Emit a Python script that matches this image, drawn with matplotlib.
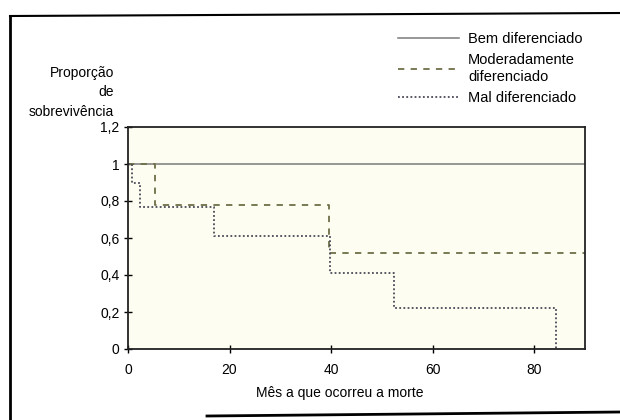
import matplotlib
matplotlib.use("Agg")
import matplotlib.pyplot as plt
from matplotlib.lines import Line2D

plt.rcParams['font.family'] = ['Liberation Sans', 'DejaVu Sans']

# Kaplan-Meier curves
bem_t = [0, 90]
bem_s = [1.0, 1.0]

mod_t = [0, 5.3, 39.5, 90]
mod_s = [1.0, 0.78, 0.52, 0.52]

mal_t = [0, 0.8, 2.3, 17, 39.8, 52.3, 84.2]
mal_s = [1.0, 0.9, 0.77, 0.61, 0.41, 0.22, 0.0]

labels = ["Bem diferenciado", "Moderadamente\ndiferenciado", "Mal diferenciado"]
y_ticks = [0, 0.2, 0.4, 0.6, 0.8, 1.0, 1.2]
y_ticklabels = ["0", "0,2", "0,4", "0,6", "0,8", "1", "1,2"]
x_ticks = [0, 20, 40, 60, 80]

fig = plt.figure(figsize=(6.2, 4.2), dpi=100)
fig.patch.set_facecolor("white")
ax = fig.add_axes([128/620, 1-349/420, (585-128)/620, (349-127)/420])
ax.set_facecolor("#fdfdf1")

l1, = ax.step(bem_t, bem_s, where="post", color="#7a7a7a", lw=1.1)
l2, = ax.step(mod_t, mod_s, where="post", color="#6f7048", lw=1.3,
              linestyle=(0, (3.5, 3.5)))
l3, = ax.step(mal_t, mal_s, where="post", color="#4a4a58", lw=1.3,
              linestyle=(0, (1, 1.3)))

ax.set_xlim(0, 90)
ax.set_ylim(0, 1.2)
ax.set_yticks(y_ticks)
ax.set_yticklabels(y_ticklabels)
ax.set_xticks(x_ticks)
ax.tick_params(direction="inout", length=6, width=1, labelsize=10, pad=3)
ax.tick_params(axis="x", pad=7)
for sp in ax.spines.values():
    sp.set_linewidth(1.3)
    sp.set_color("#222222")

fig.text(114/620, 1-92/420, "Proporção\nde\nsobrevivência", ha="right",
         va="center", fontsize=10, linespacing=1.5)
fig.text(340/620, 1-393/420, "Mês a que ocorreu a morte", ha="center",
         va="center", fontsize=10)

leg = fig.legend([l1, l2, l3], labels, loc="upper left",
                 bbox_to_anchor=(385/620, 1-19/420), frameon=False,
                 fontsize=10.5, handlelength=4.2, handletextpad=0.6,
                 labelspacing=0.5)

# outer frame of the scanned figure
fig.add_artist(Line2D([10/620, 10/620], [0, 1-16/420], color="black", lw=2))
fig.add_artist(Line2D([10/620, 1], [1-16/420, 1-13/420], color="black", lw=1.5))
fig.add_artist(Line2D([207/620, 1], [1-416/420, 1-412/420], color="black", lw=2))

fig.savefig("out.png", dpi=100)
